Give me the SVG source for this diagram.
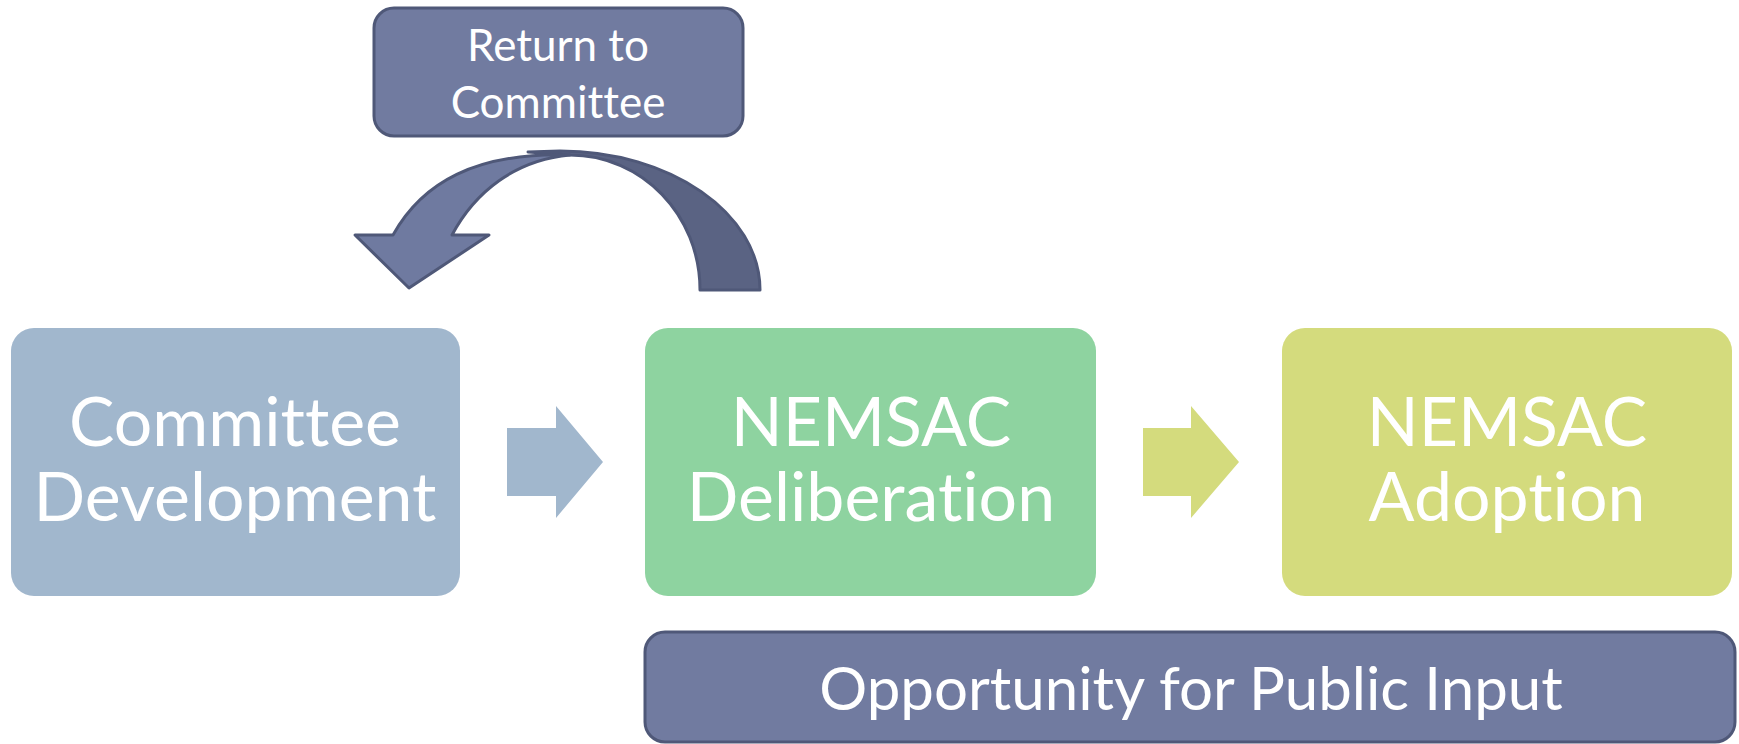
<svg xmlns="http://www.w3.org/2000/svg" width="1739" height="744" viewBox="0 0 1739 744">
  <style>
    .lbl { font-family: Lato, "Open Sans", "Liberation Sans", sans-serif; fill: #ffffff; text-anchor: middle; font-variant-ligatures: none; }
    .big { font-size: 68px; }
    .mid { font-size: 60px; }
    .small { font-size: 44px; }
    .dark { fill: #717ba0; stroke: #4f5878; stroke-width: 3; }
  </style>
  <rect width="1739" height="744" fill="#ffffff"/>

  <g id="connectors">
    <!-- loop-back arrow: rear band -->
    <path d="M 528 152 L 560 151 C 670 151 760 213 760 290 L 700 290 C 700 215 642 155 570 155 Z"
          fill="#5a6383" stroke="#4f5878" stroke-width="3" stroke-linejoin="round"/>
    <!-- loop-back arrow: front band with head -->
    <path d="M 570 155 C 475 152 422 183 393 235 L 355 235 L 409 288 L 489 235 L 452 235 C 475 192 515 160 570 155 Z"
          fill="#6f7aa0" stroke="#4f5878" stroke-width="3" stroke-linejoin="round"/>
    <!-- forward arrows -->
    <polygon points="507,428 556,428 556,406 603,462 556,518 556,496 507,496" fill="#a1b7cd"/>
    <polygon points="1143,428 1191,428 1191,406 1239,462 1191,518 1191,496 1143,496" fill="#d4db7d"/>
  </g>

  <g id="return-to-committee">
    <rect class="dark" x="374" y="8" width="369" height="128" rx="20" ry="20"/>
    <text class="lbl small" x="558" y="61">Return to</text>
    <text class="lbl small" x="558" y="118">Committee</text>
  </g>

  <g id="committee-development">
    <rect x="11" y="328" width="449" height="268" rx="23" ry="23" fill="#a1b7cd"/>
    <text class="lbl big" x="235" y="446">Committee</text>
    <text class="lbl big" x="235" y="521">Development</text>
  </g>

  <g id="nemsac-deliberation">
    <rect x="645" y="328" width="451" height="268" rx="23" ry="23" fill="#8ed3a0"/>
    <text class="lbl big" x="871" y="446">NEMSAC</text>
    <text class="lbl big" x="871" y="521">Deliberation</text>
  </g>

  <g id="nemsac-adoption">
    <rect x="1282" y="328" width="450" height="268" rx="23" ry="23" fill="#d4db7d"/>
    <text class="lbl big" x="1507" y="446">NEMSAC</text>
    <text class="lbl big" x="1507" y="521">Adoption</text>
  </g>

  <g id="public-input">
    <rect class="dark" x="645" y="632" width="1090" height="110" rx="20" ry="20"/>
    <text class="lbl mid" x="1191" y="710">Opportunity for Public Input</text>
  </g>
</svg>
